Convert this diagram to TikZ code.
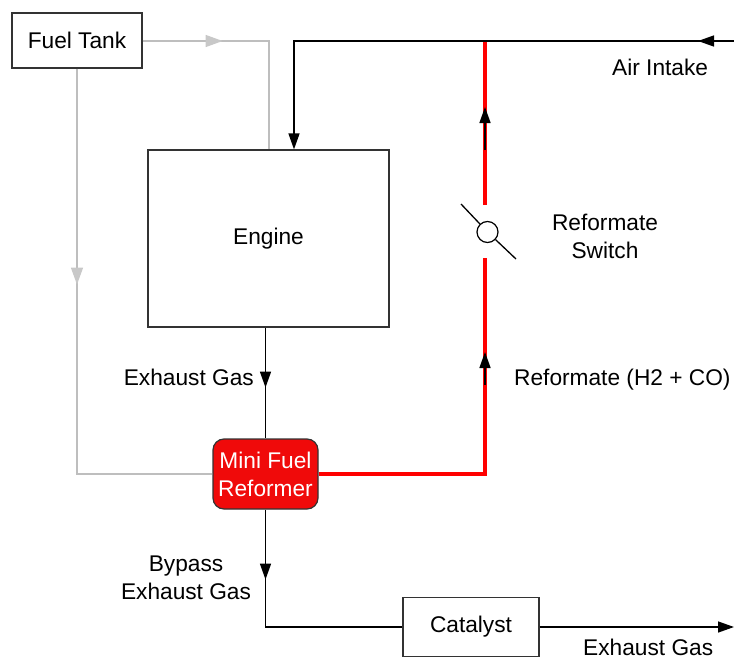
\documentclass[tikz,border=0pt]{standalone}
\usepackage{fontspec}
\setmainfont{Liberation Sans}
\usetikzlibrary{arrows.meta,decorations.markings}
\definecolor{lgray}{RGB}{190,190,190}
\definecolor{agray}{RGB}{200,200,200}
\definecolor{rred}{RGB}{255,0,0}
\definecolor{rfill}{RGB}{240,10,10}
\begin{document}
\begin{tikzpicture}[x=1pt,y=-1pt,
  every node/.style={font=\fontsize{22.7}{28}\selectfont},
  box/.style={draw=black!80, line width=1.2pt, rectangle, inner sep=0},
  lbl/.style={inner sep=0, align=center},
  blk/.style={draw=black, line width=1.4pt},
  gry/.style={draw=lgray, line width=1.3pt},
  redl/.style={draw=rred, line width=4.4pt},
  btip/.style={-{Triangle[length=16pt,width=11pt]}},
  midb/.style={postaction={decorate},decoration={markings,mark=at position #1 with {\arrow{Triangle[length=16pt,width=11pt]}}}},
  midg/.style={postaction={decorate},decoration={markings,mark=at position #1 with {\arrow{Triangle[length=17pt,width=12pt,color=agray]}}}}
]
\useasboundingbox (0,0) rectangle (734,661);

% nodes
\node[box, minimum width=130pt, minimum height=55pt] (tank) at (77,40.5) {Fuel Tank};
\node[box, minimum width=241pt, minimum height=177pt] (engine) at (268.5,238.5) {Engine};
\node[draw=black!80, line width=1.2pt, fill=rfill, rounded corners=11pt, minimum width=105pt, minimum height=70pt, inner sep=0, align=center, text=white] (reformer) at (265.5,474) {Mini Fuel\\Reformer};
\node[box, minimum width=136pt, minimum height=59pt] (catalyst) at (471,627) {Catalyst};
\node[draw=black, line width=1.2pt, circle, minimum size=21pt, inner sep=0, fill=white] (switch) at (487.5,232) {};

% coordinates
\coordinate (gcorner) at (269,41);
\coordinate (gleft) at (77,474);
\coordinate (airin) at (734,41);
\coordinate (aircorner) at (294,41);
\coordinate (redcorner) at (485,474);
\coordinate (redlow) at (485,258);
\coordinate (redhigh) at (485,205);
\coordinate (redtop) at (485,41);
\coordinate (bu1) at (485,150);
\coordinate (bu2) at (485,107);
\coordinate (bl1) at (485,385);
\coordinate (bl2) at (485,352);
\coordinate (bycorner) at (265.5,627);
\coordinate (exout) at (734,627);
\coordinate (sw1) at (461,204);
\coordinate (sw2) at (516,259);

% gray fuel lines
\draw[gry, midg=80pt] (tank.east |- gcorner) -- (gcorner) -- (gcorner |- engine.north);
\draw[gry, midg=216pt] (tank.south) -- (gleft) -- (reformer.west);

% red reformate line
\draw[redl, line cap=butt] (reformer.east) -- (redcorner) -- (redlow);
\draw[redl, line cap=butt] (redhigh) -- (redtop);
\draw[blk, btip] (bu1) -- (bu2);
\draw[blk, btip] (bl1) -- (bl2);

% switch
\draw[line width=1.3pt] (sw1) -- (switch);
\draw[line width=1.3pt] (switch) -- (sw2);

% air intake
\draw[blk, midb=36pt, btip] (airin) -- (aircorner) -- (aircorner |- engine.north);

% exhaust
\draw[blk, midb=60pt] (engine.south -| reformer.north) -- (reformer.north);
\draw[blk, midb=70pt] (reformer.south) -- (bycorner) -- (catalyst.west);
\draw[blk, btip] (catalyst.east) -- (exout);

% labels
\node[lbl, anchor=east] (lexh) at (254,377) {Exhaust Gas};
\node[lbl, anchor=west] (lair) at (612,67) {Air Intake};
\node[lbl] (lsw) at (605,236) {Reformate\\Switch};
\node[lbl, anchor=west] (lref) at (514,380) {Reformate (H2 + CO)};
\node[lbl] (lby) at (186,578) {Bypass\\Exhaust Gas};
\node[lbl, anchor=west] (lexo) at (583,647) {Exhaust Gas};
\end{tikzpicture}
\end{document}
